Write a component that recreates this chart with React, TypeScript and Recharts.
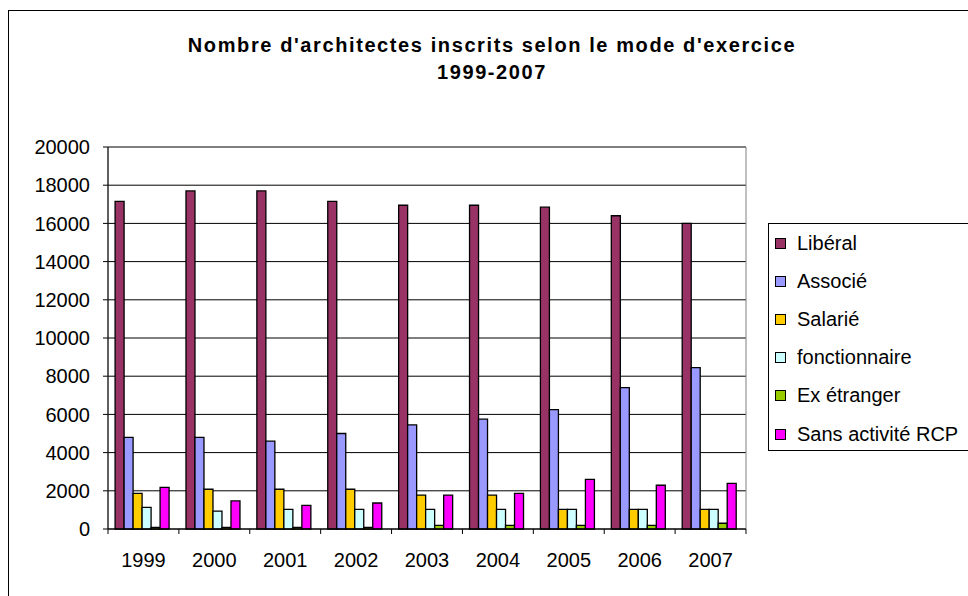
import React from 'react';
import {
  BarChart,
  Bar,
  XAxis,
  YAxis,
  CartesianGrid,
  ReferenceArea,
} from 'recharts';

const years = ['1999', '2000', '2001', '2002', '2003', '2004', '2005', '2006', '2007'];
const liberal = [17150, 17700, 17700, 17150, 16950, 16950, 16850, 16400, 16000];
const associe = [4800, 4800, 4600, 5000, 5450, 5750, 6250, 7400, 8450];
const salarie = [1870, 2080, 2080, 2080, 1770, 1770, 1030, 1030, 1030];
const fonctionnaire = [1130, 940, 1030, 1030, 1030, 1030, 1030, 1030, 1030];
const exEtranger = [80, 80, 80, 80, 190, 190, 190, 190, 300];
const sansActivite = [2180, 1470, 1240, 1360, 1770, 1870, 2600, 2290, 2390];
const yTicks = [0, 2000, 4000, 6000, 8000, 10000, 12000, 14000, 16000, 18000, 20000];

const series = [
  { key: 'liberal', name: 'Libéral', color: '#993366' },
  { key: 'associe', name: 'Associé', color: '#9999FF' },
  { key: 'salarie', name: 'Salarié', color: '#FFCC00' },
  { key: 'fonctionnaire', name: 'fonctionnaire', color: '#CCFFFF' },
  { key: 'exEtranger', name: 'Ex étranger', color: '#99CC00' },
  { key: 'sansActivite', name: 'Sans activité RCP', color: '#FF00FF' },
];

const data = years.map((year, i) => ({
  year,
  liberal: liberal[i],
  associe: associe[i],
  salarie: salarie[i],
  fonctionnaire: fonctionnaire[i],
  exEtranger: exEtranger[i],
  sansActivite: sansActivite[i],
}));

const FONT = '"Liberation Sans", Arial, sans-serif';
const PLOT_LEFT = 108;
const PLOT_RIGHT = 746;
const PLOT_TOP = 147;
const PLOT_BOTTOM = 529;
const W = 968;
const H = 596;
const BAND = (PLOT_RIGHT - PLOT_LEFT) / years.length;

const XTick = (props: any) => {
  const { x, y, payload, index } = props;
  const half = BAND / 2;
  return (
    <g>
      <line x1={x - half} x2={x - half} y1={PLOT_BOTTOM} y2={PLOT_BOTTOM + 5} stroke="#000" />
      {index === years.length - 1 && (
        <line x1={x + half} x2={x + half} y1={PLOT_BOTTOM} y2={PLOT_BOTTOM + 5} stroke="#000" />
      )}
      <text x={x} y={y} dy="0.71em" textAnchor="middle" fill="#000" fontSize={20} fontFamily={FONT}>
        {payload.value}
      </text>
    </g>
  );
};

// legend drawn as plain html so recharts doesn't reserve space for it
const LegendBox = () => (
  <div
    style={{
      position: 'absolute',
      left: 768,
      top: 223,
      border: '1px solid #000',
      background: '#fff',
      width: 220,
      height: 228,
      boxSizing: 'border-box',
      fontFamily: FONT,
      fontSize: 20,
      color: '#000',
    }}
  >
    {series.map((s) => (
      <div key={s.key} style={{ display: 'flex', alignItems: 'center', height: 38.2 }}>
        <span
          style={{
            display: 'inline-block',
            width: 9,
            height: 9,
            border: '1px solid #000',
            background: s.color,
            marginLeft: 6,
            marginRight: 11,
          }}
        />
        <span style={{ whiteSpace: 'nowrap' }}>{s.name}</span>
      </div>
    ))}
  </div>
);

export default function App() {
  return (
    <div style={{ position: 'absolute', left: 0, top: 0, width: W, height: H, overflow: 'hidden', background: '#fff' }}>
      <div
        style={{
          position: 'absolute',
          left: 8,
          top: 10,
          width: 1000,
          height: 700,
          border: '1px solid #000',
        }}
      />
      <div
        style={{
          position: 'absolute',
          left: 0,
          width: 984,
          top: 32,
          textAlign: 'center',
          fontFamily: FONT,
          fontWeight: 'bold',
          fontSize: 20,
          letterSpacing: 1.6,
          lineHeight: '27px',
          color: '#000',
        }}
      >
        <div>Nombre d'architectes inscrits selon le mode d'exercice</div>
        <div>1999-2007</div>
      </div>
      <div style={{ position: 'absolute', left: 0, top: 0 }}>
        <BarChart
          width={W}
          height={H}
          data={data}
          margin={{ top: PLOT_TOP, right: W - PLOT_RIGHT, bottom: H - PLOT_BOTTOM - 30, left: 0 }}
          barCategoryGap="10%"
          barGap={0}
        >
          <CartesianGrid vertical={false} stroke="#000" />
          <ReferenceArea y1={0} y2={20000} fill="none" stroke="#808080" />
          <YAxis
            width={PLOT_LEFT}
            domain={[0, 20000]}
            ticks={yTicks}
            interval={0}
            tickSize={5}
            tickMargin={13}
            axisLine={{ stroke: '#000' }}
            tickLine={{ stroke: '#000' }}
            tick={{ fill: '#000', fontSize: 20, fontFamily: FONT }}
          />
          <XAxis
            dataKey="year"
            height={30}
            interval={0}
            tickSize={5}
            tickMargin={19}
            tickLine={false}
            axisLine={{ stroke: '#000' }}
            tick={<XTick />}
          />
          {series.map((s) => (
            <Bar
              key={s.key}
              dataKey={s.key}
              name={s.name}
              fill={s.color}
              stroke="#000"
              strokeWidth={1.3}
              isAnimationActive={false}
            />
          ))}
        </BarChart>
      </div>
      <LegendBox />
    </div>
  );
}
